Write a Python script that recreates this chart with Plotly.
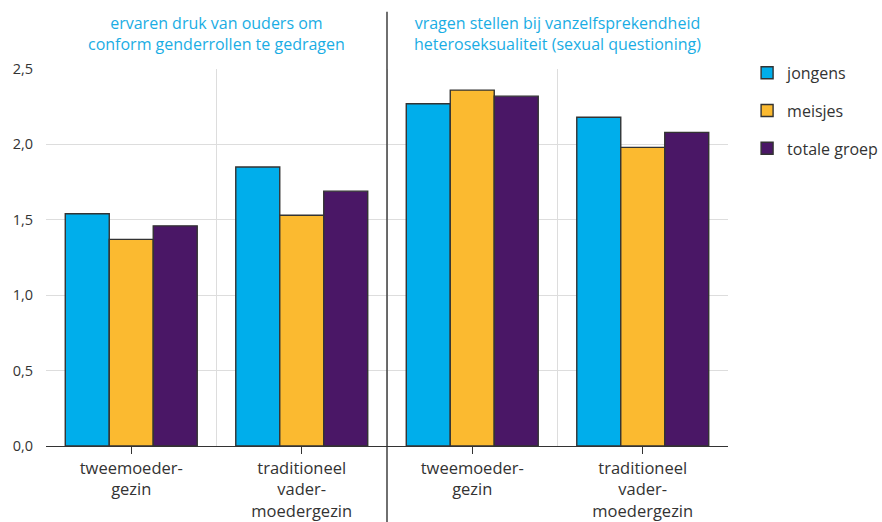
import plotly.graph_objects as go

categories = ["tweemoeder-<br>gezin", "traditioneel<br>vader-<br>moedergezin",
              "tweemoeder-<br>gezin", "traditioneel<br>vader-<br>moedergezin"]
jongens = [1.54, 1.85, 2.27, 2.18]
meisjes = [1.37, 1.53, 2.36, 1.98]
totale_groep = [1.46, 1.69, 2.32, 2.08]
series_names = ["jongens", "meisjes", "totale groep"]
series_colors = ["#00AEEB", "#FBBA30", "#4A1766"]
y_ticks = [0, 0.5, 1.0, 1.5, 2.0, 2.5]
y_tick_labels = ["0,0", "0,5", "1,0", "1,5", "2,0", "2,5"]
panel_titles = ["ervaren druk van ouders om<br>conform genderrollen te gedragen",
                "vragen stellen bij vanzelfsprekendheid<br>heteroseksualiteit (sexual questioning)"]

FONT = "Open Sans"
TEXT = "#333333"
TITLE_COLOR = "#1AADE4"

xpos = list(range(len(categories)))
fig = go.Figure()
for i, (name, vals, col) in enumerate(zip(series_names, [jongens, meisjes, totale_groep], series_colors)):
    fig.add_trace(go.Bar(
        x=xpos, y=vals, name=name, marker_color=col,
        marker_line=dict(color="#333333", width=1.4),
        legendgroup=name, hoverinfo="skip",
    ))

# invisible trace on secondary x axis to draw group-boundary gridlines
bounds = [-0.5, 0.5, 1.5, 2.5, 3.5]
fig.add_trace(go.Scatter(x=[bounds[0], bounds[-1]], y=[0, 0], xaxis="x2", mode="lines",
                         line=dict(width=0), showlegend=False, hoverinfo="skip"))

fig.update_layout(
    width=882, height=522,
    margin=dict(l=46, r=154, t=69, b=76, autoexpand=False),
    paper_bgcolor="white", plot_bgcolor="white",
    barmode="group", bargap=0.226, bargroupgap=0,
    font=dict(family=FONT, size=16, color=TEXT),
    xaxis=dict(range=[-0.5, 3.5], tickvals=xpos, ticktext=categories, automargin=False,
               showgrid=False, showline=True, linecolor="#333333", linewidth=1.4,
               ticks="outside", ticklen=7, tickcolor="#333333", tickwidth=1.4,
               tickfont=dict(size=16.5, color=TEXT), zeroline=False),
    xaxis2=dict(range=[-0.5, 3.5], overlaying="x", side="bottom", tickvals=bounds,
                showticklabels=False, showgrid=True, gridcolor="#DDDDDD", gridwidth=1.4,
                ticks="", showline=False, zeroline=False, automargin=False),
    yaxis=dict(range=[0, 2.5], tickvals=y_ticks, ticktext=y_tick_labels, automargin=False,
               showgrid=True, gridcolor="#DDDDDD", gridwidth=1.4, zeroline=False,
               ticks="", ticklabelstandoff=12, tickfont=dict(size=14.5, color=TEXT)),
    legend=dict(x=1.028, xanchor="left", y=1.035, yanchor="top", xref="paper", yref="paper",
                font=dict(size=16, color=TEXT), tracegroupgap=14,
                itemwidth=30, bgcolor="rgba(0,0,0,0)"),
    showlegend=True,
)

# divider between the two panels (at the boundary between category 1 and 2)
fig.add_shape(type="line", xref="x", yref="paper", x0=1.5, x1=1.5, y0=-0.25, y1=1.152,
              line=dict(color="#333333", width=1.4), layer="above")

for j, t in enumerate(panel_titles):
    fig.add_annotation(x=0.5 + 2 * j, y=1.0, xref="x", yref="paper", yshift=12,
                       text=t, showarrow=False, xanchor="center", yanchor="bottom",
                       font=dict(size=16, color=TITLE_COLOR, family=FONT))

fig.write_html("out.html", config={"displayModeBar": False},
               post_script="document.body.style.margin='0';document.body.style.overflow='hidden';")
